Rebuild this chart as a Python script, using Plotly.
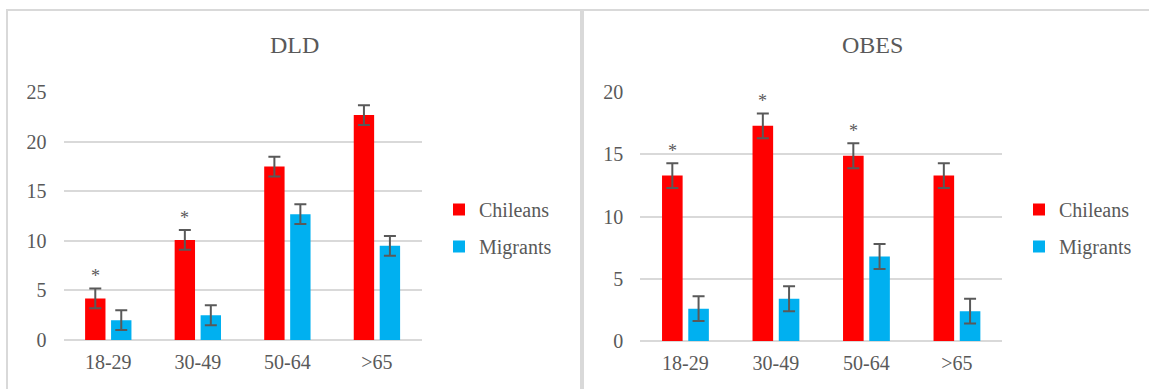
import plotly.graph_objects as go

# Age groups shared by both panels
age_groups = ["18-29", "30-49", "50-64", ">65"]

# DLD prevalence (%) with error half-widths
dld_chileans = [4.2, 10.1, 17.5, 22.7]
dld_chileans_err = [1.0, 1.0, 1.0, 1.0]
dld_migrants = [2.0, 2.5, 12.7, 9.5]
dld_migrants_err = [1.0, 1.0, 1.0, 1.0]
dld_significant = [True, True, False, False]

# OBES prevalence (%) with error half-widths
obes_chileans = [13.3, 17.3, 14.9, 13.3]
obes_chileans_err = [1.0, 1.0, 1.0, 1.0]
obes_migrants = [2.6, 3.4, 6.8, 2.4]
obes_migrants_err = [1.0, 1.0, 1.0, 1.0]
obes_significant = [True, True, True, False]

W, H = 1149, 389
RED = "#FF0000"
BLUE = "#00B0F0"
TEXT = "#595959"
GRID = "#D9D9D9"
FONT = "Liberation Serif"
BARGAP = 0.42
GROUPGAP = 0.215


def px_x(p):
    return p / W


def px_y(p):
    return 1 - p / H


fig = go.Figure()

panels = [
    dict(xa="x", ya="y", legend="legend",
         chi=dld_chileans, chi_err=dld_chileans_err,
         mig=dld_migrants, mig_err=dld_migrants_err,
         sig=dld_significant),
    dict(xa="x2", ya="y2", legend="legend2",
         chi=obes_chileans, chi_err=obes_chileans_err,
         mig=obes_migrants, mig_err=obes_migrants_err,
         sig=obes_significant),
]

err_style = dict(type="data", color=TEXT, thickness=2, width=6)

for p in panels:
    fig.add_trace(go.Bar(
        x=age_groups, y=p["chi"], name="Chileans",
        marker=dict(color=RED, line=dict(width=0)),
        error_y=dict(array=p["chi_err"], **err_style),
        xaxis=p["xa"], yaxis=p["ya"], legend=p["legend"],
        legendgroup="chi" + p["legend"],
    ))
    fig.add_trace(go.Bar(
        x=age_groups, y=p["mig"], name="Migrants",
        marker=dict(color=BLUE, line=dict(width=0)),
        error_y=dict(array=p["mig_err"], **err_style),
        xaxis=p["xa"], yaxis=p["ya"], legend=p["legend"],
        legendgroup="mig" + p["legend"],
    ))

# Significance markers above the Chileans bars
red_offset = -(1 - BARGAP) / 4
annotations = []
for p in panels:
    for i, flag in enumerate(p["sig"]):
        if flag:
            annotations.append(dict(
                x=i + red_offset, y=p["chi"][i] + p["chi_err"][i],
                xref=p["xa"], yref=p["ya"], text="*", showarrow=False,
                yanchor="middle", yshift=12,
                font=dict(family=FONT, size=18, color=TEXT),
            ))

# Panel titles
annotations.append(dict(x=px_x(294), y=px_y(45), xref="paper", yref="paper",
                        text="DLD", showarrow=False, xanchor="center", yanchor="middle",
                        font=dict(family=FONT, size=24, color=TEXT)))
annotations.append(dict(x=px_x(872), y=px_y(45), xref="paper", yref="paper",
                        text="OBES", showarrow=False, xanchor="center", yanchor="middle",
                        font=dict(family=FONT, size=24, color=TEXT)))

axis_font = dict(family=FONT, size=20, color=TEXT)
xaxis_common = dict(type="category", showgrid=False, showline=False, zeroline=False,
                    ticks="", tickfont=axis_font, ticklabelstandoff=8, fixedrange=True,
                    automargin=False)
yaxis_common = dict(showgrid=True, gridcolor=GRID, gridwidth=1.5, zeroline=True,
                    zerolinecolor=GRID, zerolinewidth=1.5, showline=False, ticks="",
                    dtick=5, tickfont=axis_font, ticklabelstandoff=16, fixedrange=True,
                    automargin=False)

legend_common = dict(font=dict(family=FONT, size=20, color=TEXT), bgcolor="rgba(0,0,0,0)",
                     borderwidth=0, tracegroupgap=8, xanchor="left", yanchor="top",
                     traceorder="grouped")

fig.update_layout(
    width=W, height=H, autosize=False,
    font=dict(family=FONT, color=TEXT),
    margin=dict(l=0, r=0, t=0, b=0, pad=0, autoexpand=False),
    paper_bgcolor="white", plot_bgcolor="white",
    barmode="group", bargap=BARGAP, bargroupgap=GROUPGAP,
    xaxis=dict(domain=[px_x(63.5), px_x(421.7)], anchor="y", **xaxis_common),
    yaxis=dict(domain=[px_y(340), px_y(92.3)], range=[0, 25], anchor="x", **yaxis_common),
    xaxis2=dict(domain=[px_x(640.2), px_x(1002.2)], anchor="y2", **xaxis_common),
    yaxis2=dict(domain=[px_y(341), px_y(92.3)], range=[0, 20], anchor="x2", **yaxis_common),
    legend=dict(x=px_x(439), y=px_y(190), **legend_common),
    legend2=dict(x=px_x(1019), y=px_y(190), **legend_common),
    annotations=annotations,
    shapes=[
        dict(type="rect", xref="paper", yref="paper",
             x0=px_x(7), x1=px_x(581), y0=-0.1, y1=px_y(10),
             line=dict(color=GRID, width=2), fillcolor="rgba(0,0,0,0)", layer="below"),
        dict(type="rect", xref="paper", yref="paper",
             x0=px_x(583), x1=1.1, y0=-0.1, y1=px_y(10),
             line=dict(color=GRID, width=2), fillcolor="rgba(0,0,0,0)", layer="below"),
    ],
    showlegend=True,
)

fig.write_html("out.html")
